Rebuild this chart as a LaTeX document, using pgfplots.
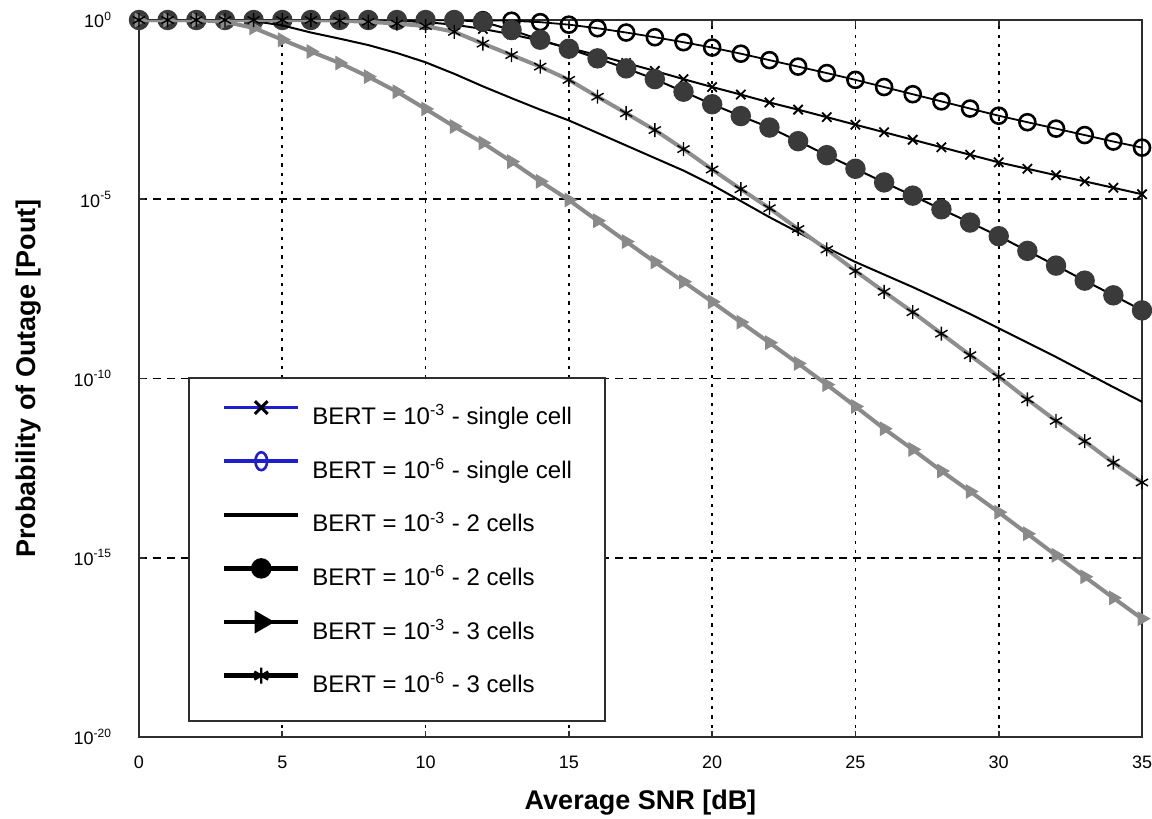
\documentclass[border=0pt]{standalone}
\usepackage{fontspec}
\setmainfont{Liberation Sans}
\usepackage{pgfplots}
\pgfplotsset{compat=1.18}
\definecolor{axisgray}{HTML}{2E2E2E}
\definecolor{markgray}{HTML}{3A3A3A}
\definecolor{linegray}{HTML}{8E8E8E}
\definecolor{trigray}{HTML}{8A8A8A}
\definecolor{legblue}{HTML}{1E1ECC}
\begin{document}
\begin{tikzpicture}
\begin{axis}[
  name=ax,
  scale only axis, width=501.5pt, height=358.5pt,
  xmin=0, xmax=35, ymode=log, ymin=1e-20, ymax=1,
  xtick={0,5,10,15,20,25,30,35},
  xticklabels={0,5,10,15,20,25,30,35},
  ytick={1e-20,1e-15,1e-10,1e-5,1},
  yticklabels={10\textsuperscript{-20},10\textsuperscript{-15},10\textsuperscript{-10},10\textsuperscript{-5},10\textsuperscript{0}},
  yminorticks=false,
  grid=major,
  major x grid style={black, line width=0.9pt, dash pattern=on 1.6pt off 3pt},
  major y grid style={black, line width=0.9pt, dash pattern=on 4pt off 3pt},
  axis line style={axisgray, line width=1pt},
  tick style={axisgray, line width=0.8pt},
  major tick length=3pt,
  clip mode=individual,
  tick label style={font=\fontsize{9}{10}\selectfont},
  xticklabel style={yshift=-6pt},
  yticklabel style={xshift=-10pt},
  xlabel={\bfseries Average SNR [dB]},
  ylabel={\bfseries Probability of Outage [Pout]},
  label style={font=\fontsize{13.5}{15}\selectfont},
  xlabel style={at={(axis description cs:0.5,0)}, anchor=center, yshift=-33pt},
  ylabel style={at={(axis description cs:0,0.5)}, anchor=center, yshift=55pt},
  legend style={at={(0.0489,0.502)}, anchor=north west, draw=axisgray, line width=1pt, fill=white,
    font=\fontsize{12}{14}\selectfont, inner xsep=16.5pt, inner ysep=10pt, row sep=9.3pt, column sep=6pt,
    nodes={inner sep=0pt, text height=13.3pt, text depth=4.2pt}},
  legend cell align=left,
  legend image code/.code={\draw[mark repeat=2,mark phase=2,#1] plot coordinates {(0pt,4pt) (18.5pt,4pt) (37pt,4pt)};},
]
% BERT = 1e-6, single cell (open circles)
\addplot[forget plot, black, line width=0.9pt, mark=o, mark size=4pt, mark options={line width=1.3pt}] coordinates {
(0,1) (1,1) (2,1) (3,1) (4,1) (5,1) (6,1) (7,1) (8,1) (9,1) (10,1) (11,1) (12,9.89e-1) (13,9.55e-1)
(14,8.71e-1) (15,7.41e-1) (16,5.89e-1) (17,4.47e-1) (18,3.31e-1) (19,2.40e-1) (20,1.70e-1) (21,1.15e-1)
(22,7.59e-2) (23,5.01e-2) (24,3.31e-2) (25,2.14e-2) (26,1.35e-2) (27,8.51e-3) (28,5.37e-3) (29,3.39e-3)
(30,2.14e-3) (31,1.41e-3) (32,9.33e-4) (33,6.17e-4) (34,4.07e-4) (35,2.75e-4)};
% BERT = 1e-3, single cell (x marks)
\addplot[forget plot, black, line width=1pt, mark=x, mark size=3.3pt, mark options={line width=0.9pt}] coordinates {
(0,1) (1,1) (2,1) (3,1) (4,1) (5,1) (6,1) (7,1) (8,1) (9,9.55e-1) (10,8.71e-1) (11,7.41e-1) (12,5.62e-1)
(13,3.98e-1) (14,2.63e-1) (15,1.66e-1) (16,1.05e-1) (17,6.31e-2) (18,3.80e-2) (19,2.24e-2) (20,1.35e-2)
(21,8.32e-3) (22,5.01e-3) (23,3.16e-3) (24,1.95e-3) (25,1.20e-3) (26,7.41e-4) (27,4.57e-4) (28,2.82e-4)
(29,1.74e-4) (30,1.07e-4) (31,7.08e-5) (32,4.68e-5) (33,3.16e-5) (34,2.09e-5) (35,1.38e-5)};
% BERT = 1e-6, 2 cells (filled circles)
\addplot[forget plot, black, line width=1pt, mark=*, mark size=4.6pt, mark options={fill=markgray, draw=markgray}] coordinates {
(0,1) (1,1) (2,1) (3,1) (4,1) (5,1) (6,1) (7,1) (8,1) (9,1) (10,1) (11,1) (12,8.91e-1) (13,5.25e-1)
(14,2.82e-1) (15,1.58e-1) (16,8.51e-2) (17,4.47e-2) (18,2.24e-2) (19,1.00e-2) (20,4.47e-3) (21,2.09e-3)
(22,1.00e-3) (23,4.17e-4) (24,1.70e-4) (25,7.08e-5) (26,2.95e-5) (27,1.26e-5) (28,5.25e-6) (29,2.24e-6)
(30,9.33e-7) (31,3.63e-7) (32,1.41e-7) (33,5.37e-8) (34,2.09e-8) (35,7.94e-9)};
% BERT = 1e-3, 2 cells (solid black)
\addplot[forget plot, black, line width=1pt] coordinates {
(0,1) (1,1) (2,1) (3,1) (4,9.33e-1) (5,7.08e-1) (6,4.47e-1) (7,3.02e-1) (8,2.00e-1) (9,1.20e-1)
(10,6.61e-2) (11,3.16e-2) (12,1.41e-2) (13,6.61e-3) (14,3.16e-3) (15,1.58e-3) (16,7.08e-4) (17,3.16e-4)
(18,1.41e-4) (19,6.31e-5) (20,2.51e-5) (21,8.91e-6) (22,3.16e-6) (23,1.20e-6) (24,4.47e-7) (25,1.78e-7)
(26,7.94e-8) (27,3.55e-8) (28,1.51e-8) (29,6.31e-9) (30,2.51e-9) (31,1.00e-9) (32,3.98e-10) (33,1.51e-10)
(34,5.75e-11) (35,2.24e-11)};
% BERT = 1e-3, 3 cells (gray triangles)
\addplot[forget plot, trigray, line width=2pt, mark=triangle*, mark size=3.8pt, mark options={rotate=-90, fill=trigray, draw=trigray, line width=0.5pt}] coordinates {
(0,1) (1,1) (2,1) (3,8.91e-1) (4,6.03e-1) (5,2.82e-1) (6,1.32e-1) (7,6.31e-2) (8,2.63e-2) (9,1.00e-2)
(10,3.31e-3) (11,1.07e-3) (12,3.72e-4) (13,1.12e-4) (14,3.16e-5) (15,9.55e-6) (16,2.51e-6) (17,6.61e-7)
(18,1.78e-7) (19,5.01e-8) (20,1.38e-8) (21,3.72e-9) (22,1.00e-9) (23,2.63e-10) (24,6.76e-11) (25,1.66e-11)
(26,3.98e-12) (27,1.05e-12) (28,2.63e-13) (29,7.08e-14) (30,1.86e-14) (31,4.68e-15) (32,1.17e-15)
(33,2.95e-16) (34,7.59e-17) (35,2.00e-17)};
% BERT = 1e-6, 3 cells (gray line, asterisks)
\addplot[forget plot, linegray, line width=2pt, mark=asterisk, mark size=3.5pt, mark options={black, line width=0.7pt}] coordinates {
(0,1) (1,1) (2,1) (3,1) (4,1) (5,1) (6,1) (7,9.55e-1) (8,8.91e-1) (9,7.94e-1) (10,6.76e-1) (11,4.68e-1)
(12,2.19e-1) (13,1.05e-1) (14,5.01e-2) (15,2.14e-2) (16,7.24e-3) (17,2.51e-3) (18,8.51e-4) (19,2.51e-4)
(20,6.76e-5) (21,1.91e-5) (22,5.62e-6) (23,1.48e-6) (24,3.98e-7) (25,1.00e-7) (26,2.63e-8) (27,7.08e-9)
(28,1.78e-9) (29,4.47e-10) (30,1.12e-10) (31,2.63e-11) (32,6.61e-12) (33,1.78e-12) (34,4.47e-13) (35,1.26e-13)};
% legend entries
\addlegendimage{legblue, line width=1.8pt, mark=x, mark size=4.5pt, mark options={black, line width=1.5pt}}
\addlegendentry{BERT = 10\textsuperscript{-3} - single cell}
\addlegendimage{legblue, line width=1.8pt, mark=o, mark size=4.5pt, mark options={legblue, line width=1.3pt, xscale=0.65}}
\addlegendentry{BERT = 10\textsuperscript{-6} - single cell}
\addlegendimage{black, line width=2.2pt}
\addlegendentry{BERT = 10\textsuperscript{-3} - 2 cells}
\addlegendimage{black, line width=2.2pt, mark=*, mark size=4pt, mark options={fill=black}}
\addlegendentry{BERT = 10\textsuperscript{-6} - 2 cells}
\addlegendimage{black, line width=2.2pt, mark=triangle*, mark size=4.5pt, mark options={rotate=-90, fill=black}}
\addlegendentry{BERT = 10\textsuperscript{-3} - 3 cells}
\addlegendimage{black, line width=2.2pt, mark=asterisk, mark size=4pt, mark options={black, line width=1.2pt}}
\addlegendentry{BERT = 10\textsuperscript{-6} - 3 cells}
\end{axis}
\pgfresetboundingbox
\path[use as bounding box] ([xshift=-69.5pt,yshift=-40.5pt]ax.south west) rectangle ([xshift=5pt,yshift=10pt]ax.north east);
\end{tikzpicture}
\end{document}
